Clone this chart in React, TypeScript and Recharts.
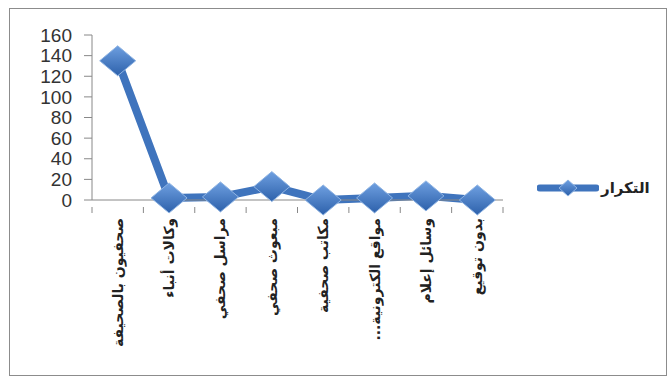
import { LineChart, Line, XAxis, YAxis } from 'recharts';

const categories = [
  'صحفيون بالصحيفة',
  'وكالات أنباء',
  'مراسل صحفي',
  'مبعوث صحفي',
  'مكاتب صحفية',
  'مواقع الكترونية...',
  'وسائل إعلام',
  'بدون توقيع',
];
const counts = [135, 2, 3, 13, 0, 2, 4, 0];
const yTicks = [0, 20, 40, 60, 80, 100, 120, 140, 160];
const seriesName = 'التكرار';

const data = categories.map((name, i) => ({ name, count: counts[i] }));

const LINE_COLOR = '#3f74bd';
const BAND = (670 - 92 - 167) / categories.length;

function Diamond(props: any) {
  const { cx, cy } = props;
  if (cx == null || cy == null) return null;
  const w = 18;
  const h = 15;
  return (
    <polygon
      points={`${cx},${cy - h} ${cx + w},${cy} ${cx},${cy + h} ${cx - w},${cy}`}
      fill="url(#diamondFill)"
      stroke="#8fb4e3"
      strokeWidth={1}
    />
  );
}

function CategoryTick(props: any) {
  const { x, y, payload, index } = props;
  return (
    <g transform={`translate(${x},${y})`}>
      <line x1={-BAND / 2} y1={-1} x2={-BAND / 2} y2={5} stroke="#888" />
      {index === categories.length - 1 && (
        <line x1={BAND / 2} y1={-1} x2={BAND / 2} y2={5} stroke="#888" />
      )}
      <text
        transform="translate(5,10) rotate(-90)"
        textAnchor="start"
        direction="rtl"
        fontSize={14}
        fontWeight="bold"
        fontFamily="DejaVu Sans, sans-serif"
        fill="#222"
      >
        {payload.value}
      </text>
    </g>
  );
}

// legend drawn outside the chart so it doesn't eat plot width
function LegendBox() {
  return (
    <div style={{ position: 'absolute', left: 537, top: 178, display: 'flex', alignItems: 'center' }}>
      <svg width={62} height={20}>
        <defs>
          <linearGradient id="legendFill" x1="0" y1="0" x2="0" y2="1">
            <stop offset="0%" stopColor="#6e9fe0" />
            <stop offset="100%" stopColor="#2d61ab" />
          </linearGradient>
        </defs>
        <line x1={3} y1={10} x2={59} y2={10} stroke={LINE_COLOR} strokeWidth={7} strokeLinecap="round" />
        <polygon points="31,2 40,10 31,18 22,10" fill="url(#legendFill)" stroke="#8fb4e3" />
      </svg>
      <span style={{ fontFamily: 'DejaVu Sans, sans-serif', fontSize: 15, fontWeight: 'bold', color: '#222', marginLeft: 2 }}>
        {seriesName}
      </span>
    </div>
  );
}

export default function App() {
  return (
    <div style={{ position: 'absolute', left: 0, top: 0, width: 670, height: 378, background: '#fff' }}>
      <div
        style={{
          position: 'absolute',
          left: 9,
          top: 8,
          width: 658,
          height: 368,
          border: '1px solid #8c8c8c',
          boxSizing: 'border-box',
        }}
      />
      <div style={{ position: 'absolute', left: 0, top: 0 }}>
        <LineChart width={670} height={378} data={data} margin={{ top: 35, right: 167, left: 0, bottom: 0 }}>
          <defs>
            <linearGradient id="diamondFill" x1="0" y1="0" x2="0" y2="1">
              <stop offset="0%" stopColor="#6e9fe0" />
              <stop offset="100%" stopColor="#2d61ab" />
            </linearGradient>
          </defs>
          <XAxis
            dataKey="name"
            height={178}
            interval={0}
            padding={{ left: BAND / 2, right: BAND / 2 }}
            tick={<CategoryTick />}
            tickLine={false}
            axisLine={{ stroke: '#888' }}
          />
          <YAxis
            width={92}
            domain={[0, 160]}
            ticks={yTicks}
            interval={0}
            tickSize={8}
            tickMargin={12}
            tick={{ fontSize: 19, fill: '#333', fontFamily: 'Liberation Sans, sans-serif' }}
            tickLine={{ stroke: '#888' }}
            axisLine={{ stroke: '#888' }}
          />
          <Line
            type="linear"
            dataKey="count"
            name={seriesName}
            stroke={LINE_COLOR}
            strokeWidth={8}
            dot={<Diamond />}
            activeDot={false}
            isAnimationActive={false}
          />
        </LineChart>
      </div>
      <LegendBox />
    </div>
  );
}
